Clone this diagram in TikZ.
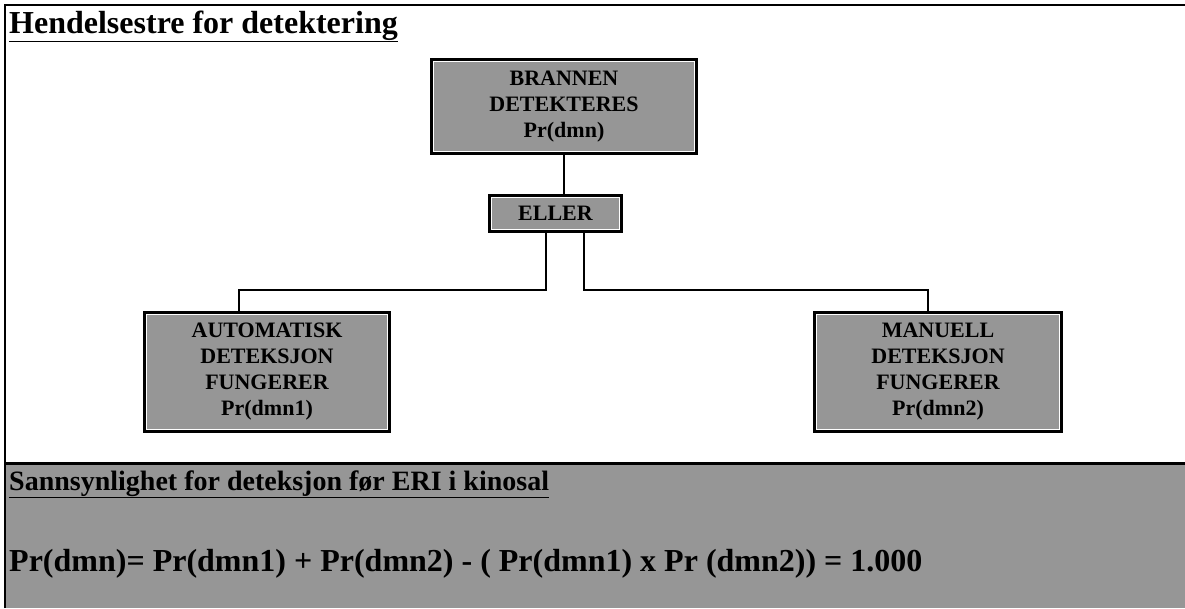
\documentclass[tikz,border=0pt]{standalone}
\usepackage{fontspec}
\setmainfont{Liberation Serif}
\begin{document}
\begin{tikzpicture}[x=1pt,y=-1pt,
  boxgray/.style={fill={rgb,255:red,150;green,150;blue,150}},
  % black rim with a thin white inner line
  gatebox/.style={boxgray, draw=white, line width=1pt,
    preaction={draw=black, line width=7pt},
    inner sep=0pt, align=center,
    font=\fontsize{22}{26}\selectfont\bfseries},
  wire/.style={draw=black, line width=2.5pt}]
\useasboundingbox (0,0) rectangle (1185,608);

% frame and lower panel
\fill[boxgray] (5,463) rectangle (1185,608);
\draw[line width=2.5pt] (5,608) -- (5,5) -- (1185,5);
\draw[line width=3pt] (5,463) -- (1185,463);

% headings
\node[anchor=base west, inner sep=0pt, font=\fontsize{32}{36}\selectfont\bfseries]
  (title) at (9,33) {\underline{Hendelsestre for detektering}};
\node[anchor=base west, inner sep=0pt, font=\fontsize{28}{32}\selectfont\bfseries]
  (subtitle) at (9,490) {\underline{Sannsynlighet for deteksjon før ERI i kinosal}};
\node[anchor=base west, inner sep=0pt, font=\fontsize{32}{36}\selectfont\bfseries]
  (formula) at (9,571) {Pr(dmn)= Pr(dmn1) + Pr(dmn2) - ( Pr(dmn1) x Pr (dmn2)) = 1.000};

% event tree boxes
\node[gatebox, minimum width=261pt, minimum height=90pt] (top) at (564,106.5)
  {BRANNEN\\DETEKTERES\\Pr(dmn)};
\node[gatebox, minimum width=128pt, minimum height=32pt] (eller) at (555.5,213.5)
  {ELLER};
\node[gatebox, minimum width=241pt, minimum height=115pt] (auto) at (267,372)
  {AUTOMATISK\\DETEKSJON\\FUNGERER\\Pr(dmn1)};
\node[gatebox, minimum width=243pt, minimum height=115pt] (manual) at (938,372)
  {MANUELL\\DETEKSJON\\FUNGERER\\Pr(dmn2)};

% connectors
\draw[wire] (top.south) -- (top.south |- eller.north);
\draw[wire] (eller.south -| 546,0) -- (546,290) -- (239,290) -- (auto.north -| 239,0);
\draw[wire] (eller.south -| 584,0) -- (584,290) -- (928,290) -- (manual.north -| 928,0);
\end{tikzpicture}
\end{document}
